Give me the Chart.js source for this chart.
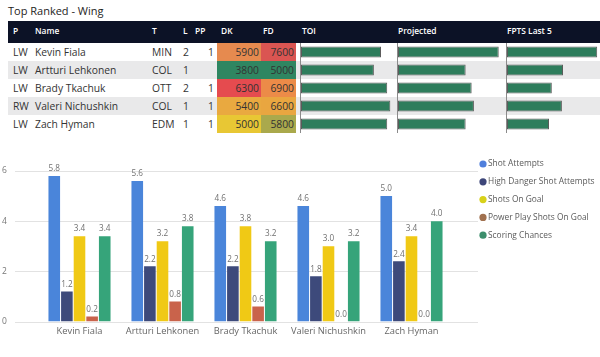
<!DOCTYPE html>
<html>
<head>
<meta charset="utf-8">
<script src="https://cdn.jsdelivr.net/npm/chart.js@4.4.1/dist/chart.umd.min.js"></script>
<style>
  html, body { margin:0; padding:0; background:#fff; }
  body { width:600px; height:357px; position:relative; overflow:hidden; font-family:'Open Sans','Noto Sans',sans-serif; }
  .title { position:absolute; left:8px; top:2px; color:#252423; line-height:18px; font-size:11px; }
  .header { position:absolute; left:8px; top:21px; width:592px; height:22px; background:#0c1226; }
  .header span { position:absolute; top:0; line-height:20px; color:#fff; font-weight:600; font-size:8.4px; white-space:nowrap; }
  .row { position:absolute; left:8px; width:592px; height:18px; }
  .row span { position:absolute; top:0; line-height:18px; color:#333; font-size:10.3px; white-space:nowrap; }
  .cell { position:absolute; top:0; height:18px; }
  .mini { position:absolute; top:43px; height:90px; border-left:1px solid #8a8a8a; }
  .mini canvas { position:absolute; left:0; top:0; }
  #barWrap { position:absolute; left:0; top:150px; width:600px; height:207px; }
</style>
</head>
<body>
<div class="title" id="title">Top Ranked - Wing</div>
<div class="header" id="header"></div>
<div id="rows"></div>
<div class="mini" style="left:300px;width:96px;"><canvas id="toiChart"></canvas></div>
<div class="mini" style="left:397px;width:109px;"><canvas id="projChart"></canvas></div>
<div class="mini" style="left:506px;width:93px;"><canvas id="fptsChart"></canvas></div>
<div id="barWrap"><canvas id="barChart"></canvas></div>
<script>
// ---- Table data ----
const positions = ['LW', 'LW', 'LW', 'RW', 'LW'];
const players = ['Kevin Fiala', 'Artturi Lehkonen', 'Brady Tkachuk', 'Valeri Nichushkin', 'Zach Hyman'];
const teams = ['MIN', 'COL', 'OTT', 'COL', 'EDM'];
const lines = [2, 1, 2, 1, 1];
const ppUnits = [1, null, 1, 1, 1];
const dkSalary = [5900, 3800, 6300, 5400, 5000];
const fdSalary = [7600, 5000, 6900, 6600, 5800];
const toi = [18.0, 16.4, 19.4, 20.1, 19.4];
const projected = [13.4, 9.0, 9.8, 10.1, 9.0];
const fptsLast5 = [16.1, 10.0, 8.0, 9.8, 7.5];
const headerLabels = ['P', 'Name', 'T', 'L', 'PP', 'DK', 'FD', 'TOI', 'Projected', 'FPTS Last 5'];

// ---- Bar chart data ----
const seriesNames = ['Shot Attempts', 'High Danger Shot Attempts', 'Shots On Goal', 'Power Play Shots On Goal', 'Scoring Chances'];
const shotAttempts = [5.8, 5.6, 4.6, 4.6, 5.0];
const highDangerShotAttempts = [1.2, 2.2, 2.2, 1.8, 2.4];
const shotsOnGoal = [3.4, 3.2, 3.8, 3.0, 3.4];
const powerPlayShotsOnGoal = [0.2, 0.8, 0.6, 0.0, 0.0];
const scoringChances = [3.4, 3.8, 3.2, 3.2, 4.0];
const yTicks = [0, 2, 4, 6];

// ---- styles ----
const FONT = "'Open Sans','Noto Sans',sans-serif";
const dkColors = ['#e68a4f', '#2f8661', '#e54b4f', '#e9a940', '#e8c734'];
const fdColors = ['#da5552', '#2f8661', '#ec8b48', '#e9a640', '#aaa94c'];
const seriesColors = ['#4a85da', '#3d4a7b', '#f0c915', '#c9634b', '#36a47a'];
const legendColors = ['#4f7fdc', '#3d4679', '#d8d119', '#a0704e', '#3c8e6c'];

// Header
const headerX = [5, 27, 144, 175, 187, 213, 255, 294, 390, 499];
const header = document.getElementById('header');
headerLabels.forEach((t, i) => {
  const s = document.createElement('span');
  s.textContent = t;
  s.style.left = headerX[i] + 'px';
  header.appendChild(s);
});

// Rows
const rowsEl = document.getElementById('rows');
players.forEach((name, i) => {
  const r = document.createElement('div');
  r.className = 'row';
  r.style.top = (43 + 18 * i) + 'px';
  r.style.background = i % 2 ? '#e9e9ea' : '#ffffff';
  const add = (txt, css) => {
    const s = document.createElement('span');
    s.textContent = txt;
    Object.assign(s.style, css);
    r.appendChild(s);
    return s;
  };
  add(positions[i], { left: '5px' });
  add(name, { left: '27px' });
  add(teams[i], { left: '144px' });
  add(String(lines[i]), { left: '175px' });
  if (ppUnits[i] !== null) add(String(ppUnits[i]), { left: '186px', width: '20px', textAlign: 'right' });
  const dk = document.createElement('div');
  dk.className = 'cell';
  Object.assign(dk.style, { left: '209px', width: '44px', background: dkColors[i] });
  r.appendChild(dk);
  const fd = document.createElement('div');
  fd.className = 'cell';
  Object.assign(fd.style, { left: '253px', width: '35px', background: fdColors[i] });
  r.appendChild(fd);
  add(String(dkSalary[i]), { left: '209px', width: '42px', textAlign: 'right' });
  add(String(fdSalary[i]), { left: '253px', width: '33px', textAlign: 'right' });
  rowsEl.appendChild(r);
});

// Mini data bar charts
function miniChart(id, values, maxVal) {
  new Chart(document.getElementById(id), {
    type: 'bar',
    data: {
      labels: players,
      datasets: [{
        data: values,
        backgroundColor: '#2e7d5c',
        borderColor: '#5b5b5b',
        borderWidth: 1,
        borderSkipped: false,
        barPercentage: 0.62,
        categoryPercentage: 1
      }]
    },
    options: {
      indexAxis: 'y',
      responsive: true,
      maintainAspectRatio: false,
      animation: false,
      layout: { padding: 0 },
      plugins: { legend: { display: false }, tooltip: { enabled: false } },
      scales: {
        x: { display: false, min: 0, max: maxVal },
        y: { display: false }
      }
    }
  });
}
miniChart('toiChart', toi, 21.6);
miniChart('projChart', projected, 14.5);
miniChart('fptsChart', fptsLast5, 16.6);

// Main grouped bar chart
const seriesData = [shotAttempts, highDangerShotAttempts, shotsOnGoal, powerPlayShotsOnGoal, scoringChances];

const gridPlugin = {
  id: 'extGrid',
  beforeDatasetsDraw(chart) {
    const { ctx } = chart;
    const y = chart.scales.y;
    ctx.save();
    ctx.strokeStyle = '#e2e2e2';
    ctx.lineWidth = 1;
    yTicks.forEach(v => {
      const py = Math.round(y.getPixelForValue(v)) + 0.5;
      ctx.beginPath();
      ctx.moveTo(15, py);
      ctx.lineTo(478, py);
      ctx.stroke();
    });
    ctx.restore();
  }
};

const labelPlugin = {
  id: 'valueLabels',
  afterDatasetsDraw(chart) {
    const { ctx } = chart;
    ctx.save();
    ctx.font = '8.2px ' + FONT;
    ctx.fillStyle = '#707070';
    ctx.textAlign = 'center';
    ctx.textBaseline = 'bottom';
    chart.data.datasets.forEach((ds, di) => {
      chart.getDatasetMeta(di).data.forEach((bar, i) => {
        ctx.fillText(ds.data[i].toFixed(1), bar.x, bar.y - 3);
      });
    });
    ctx.restore();
  }
};

const legendPlugin = {
  id: 'sideLegend',
  afterDraw(chart) {
    const { ctx } = chart;
    ctx.save();
    ctx.font = '8.4px ' + FONT;
    ctx.textBaseline = 'middle';
    ctx.textAlign = 'left';
    chart.data.datasets.forEach((ds, i) => {
      const cy = 14 + i * 17.8;
      ctx.beginPath();
      ctx.fillStyle = legendColors[i];
      ctx.arc(483, cy, 3.6, 0, Math.PI * 2);
      ctx.fill();
      ctx.fillStyle = '#5a5a5a';
      ctx.fillText(ds.label, 488, cy);
    });
    ctx.restore();
  }
};

new Chart(document.getElementById('barChart'), {
  type: 'bar',
  data: {
    labels: players,
    datasets: seriesNames.map((n, i) => ({
      label: n,
      data: seriesData[i],
      backgroundColor: seriesColors[i],
      barPercentage: 0.92,
      categoryPercentage: 0.76
    }))
  },
  options: {
    responsive: true,
    maintainAspectRatio: false,
    animation: false,
    layout: { padding: { top: 21, left: 2, right: 147, bottom: 0 } },
    plugins: { legend: { display: false }, tooltip: { enabled: false } },
    scales: {
      x: {
        grid: { display: false, drawTicks: false },
        border: { display: false },
        ticks: { color: '#666', font: { size: 9.3, family: FONT }, padding: 4, maxRotation: 0, minRotation: 0, autoSkip: false },
        afterFit(scale) { scale.height = 35.5; }
      },
      y: {
        min: 0, max: 6,
        afterBuildTicks(scale) { scale.ticks = yTicks.map(v => ({ value: v })); },
        grid: { display: false, drawTicks: false },
        border: { display: false },
        ticks: { color: '#777', font: { size: 8.5, family: FONT }, crossAlign: 'far', padding: 0 },
        afterFit(scale) { scale.width = 36; }
      }
    }
  },
  plugins: [gridPlugin, labelPlugin, legendPlugin]
});
</script>
</body>
</html>
